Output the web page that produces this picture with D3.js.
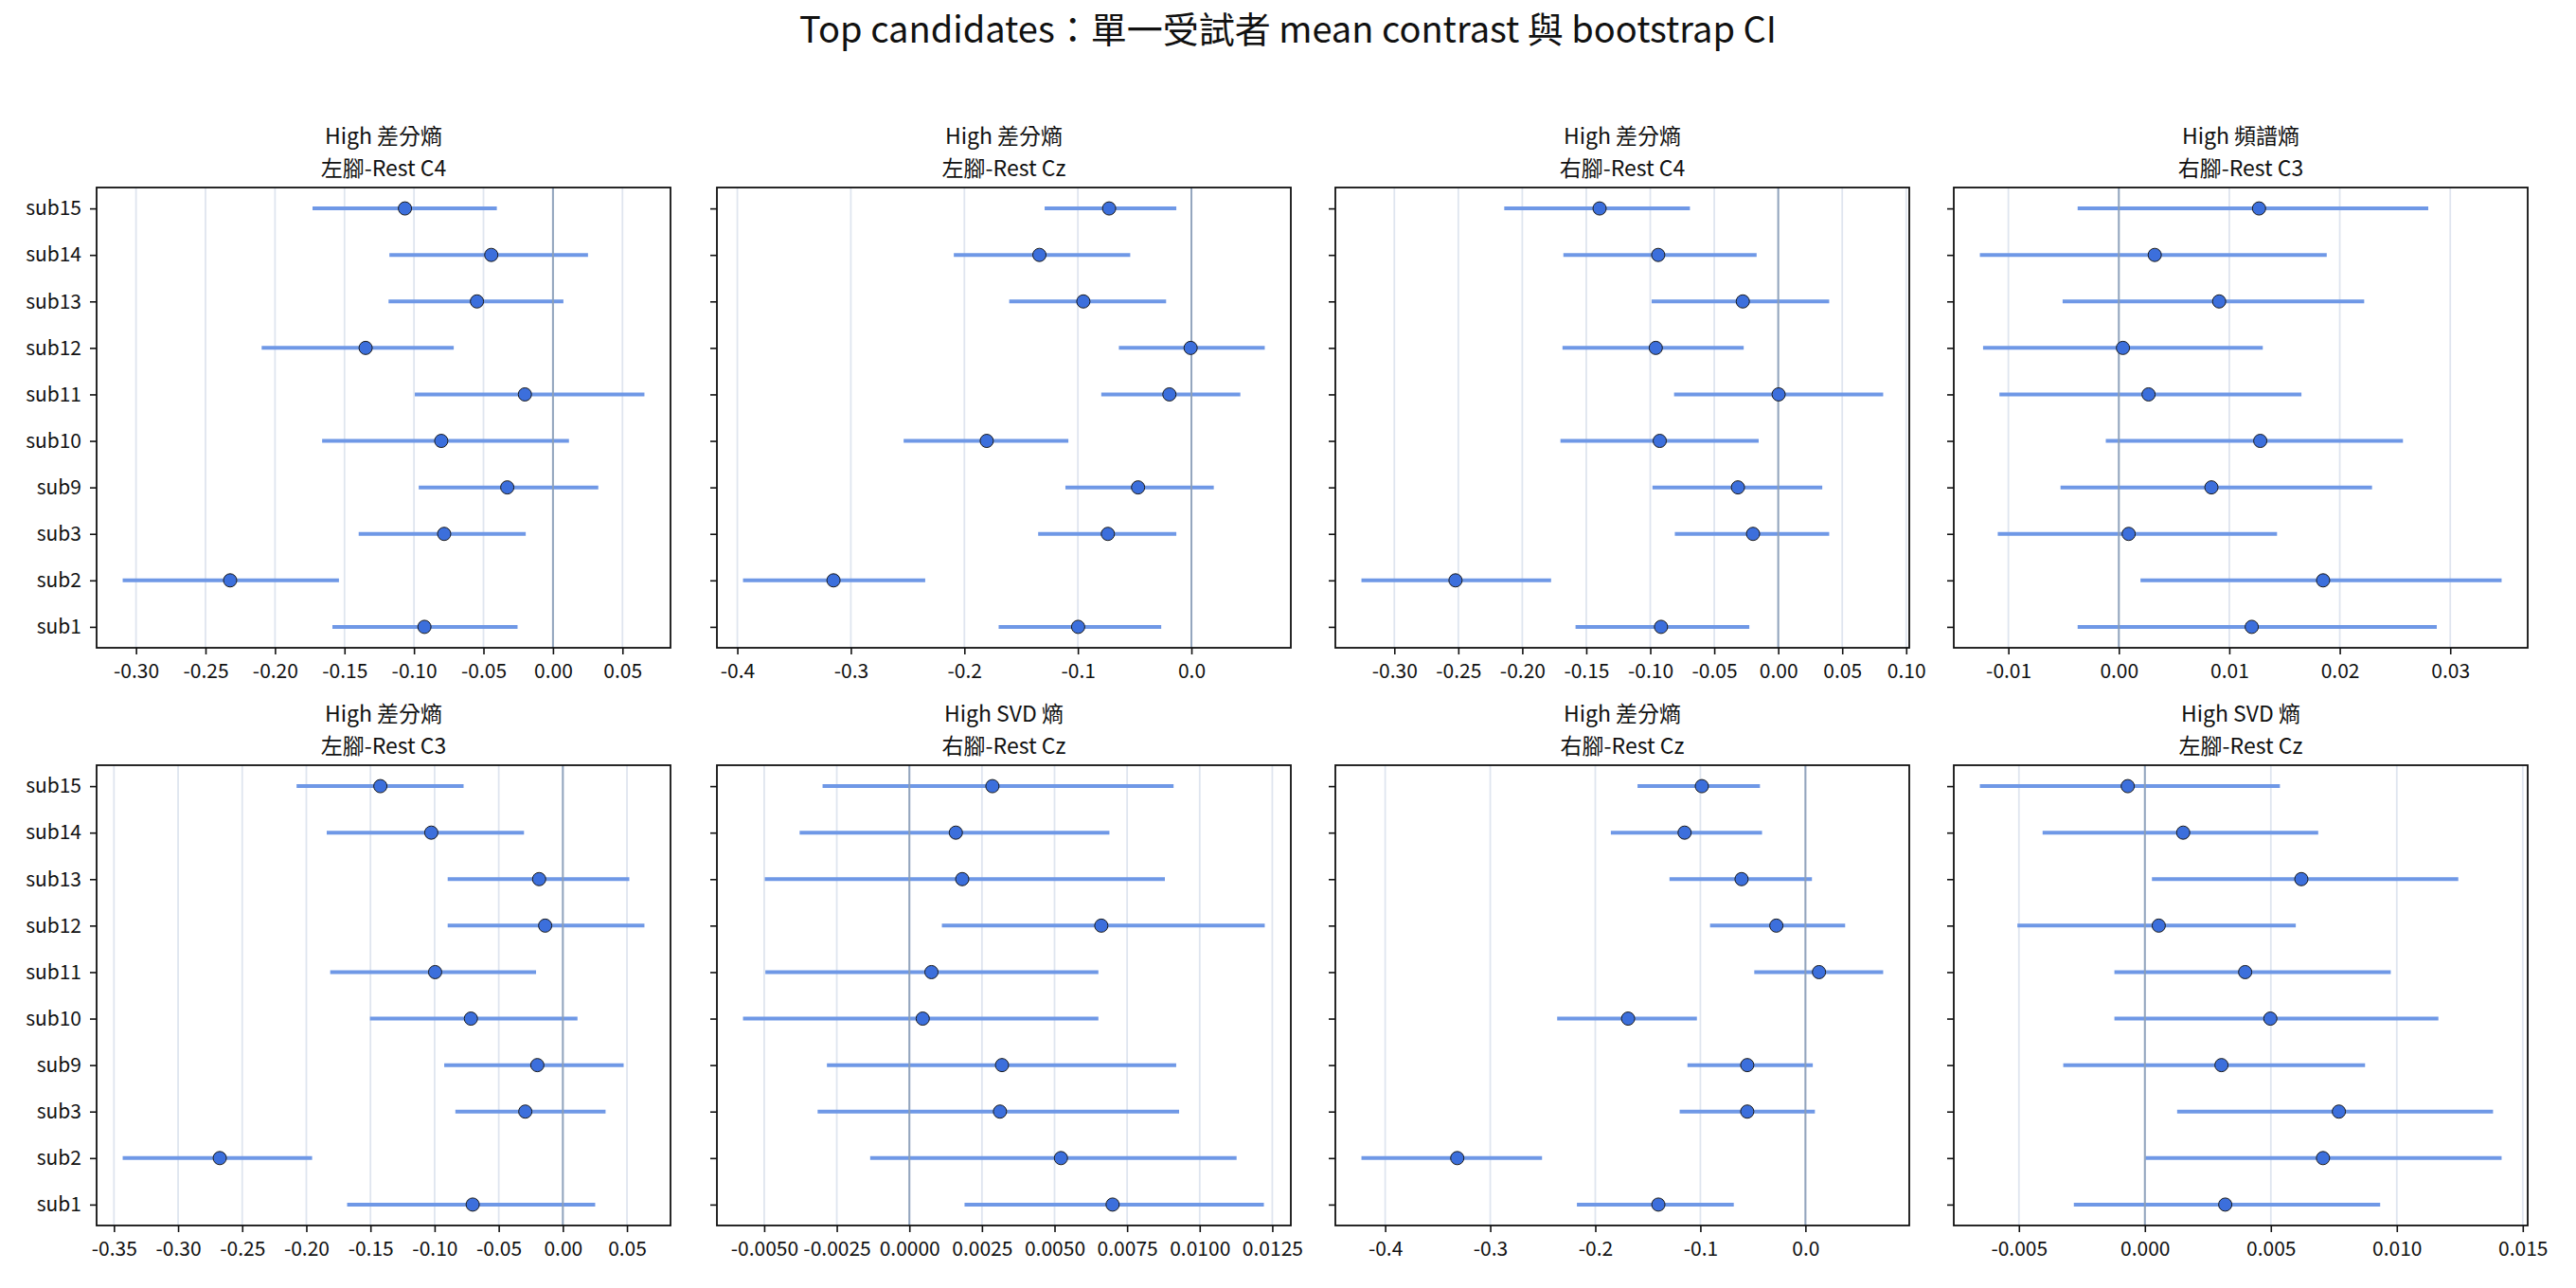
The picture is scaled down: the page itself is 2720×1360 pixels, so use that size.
<!DOCTYPE html>
<html>
<head>
<meta charset="utf-8">
<script src="https://cdn.jsdelivr.net/npm/d3@7"></script>
<style>
    body { margin: 0; background: #fff; }
    text { font-family: "Noto Sans CJK TC", "Noto Sans", sans-serif; fill: #111; }
</style>
</head>
<body>
<svg id="chart" width="2720" height="1360"></svg>
<script>
// 受試者（由下往上）
const subjects = ['sub1', 'sub2', 'sub3', 'sub9', 'sub10', 'sub11', 'sub12', 'sub13', 'sub14', 'sub15'];

const suptitle = 'Top candidates：單一受試者 mean contrast 與 bootstrap CI';
const metricNames = ['High 差分熵', 'High 差分熵', 'High 差分熵', 'High 頻譜熵',
    'High 差分熵', 'High SVD 熵', 'High 差分熵', 'High SVD 熵'];
const contrastNames = ['左腳-Rest C4', '左腳-Rest Cz', '右腳-Rest C4', '右腳-Rest C3',
    '左腳-Rest C3', '右腳-Rest Cz', '右腳-Rest Cz', '左腳-Rest Cz'];

// mean contrast，每列一個 panel，順序同 subjects
const means = [
    [-0.0925, -0.2323, -0.0783, -0.0329, -0.0804, -0.0202, -0.1348, -0.0547, -0.0444, -0.1065],
    [-0.0998, -0.3153, -0.0736, -0.0470, -0.1803, -0.0194, -0.0007, -0.0952, -0.1339, -0.0725],
    [-0.0916, -0.2522, -0.0197, -0.0315, -0.0926, 0.0003, -0.0957, -0.0277, -0.0938, -0.1396],
    [0.01203, 0.01849, 0.00089, 0.00838, 0.01280, 0.00269, 0.00037, 0.00908, 0.00325, 0.01269],
    [-0.0703, -0.2675, -0.0293, -0.0199, -0.0717, -0.0996, -0.0138, -0.0185, -0.1026, -0.1423],
    [0.00700, 0.00522, 0.00312, 0.00319, 0.00046, 0.00076, 0.00661, 0.00182, 0.00160, 0.00286],
    [-0.1400, -0.3314, -0.0554, -0.0554, -0.1688, 0.0129, -0.0277, -0.0608, -0.1150, -0.0986],
    [0.00319, 0.00707, 0.00770, 0.00304, 0.00498, 0.00398, 0.00055, 0.00621, 0.00152, -0.00068]
];
// bootstrap CI 下界
const ciLow = [
    [-0.1587, -0.3096, -0.1398, -0.0966, -0.1661, -0.0994, -0.2096, -0.1183, -0.1177, -0.1730],
    [-0.1698, -0.3950, -0.1350, -0.1110, -0.2535, -0.0794, -0.0639, -0.1605, -0.2093, -0.1293],
    [-0.1584, -0.3257, -0.0808, -0.0983, -0.1702, -0.0814, -0.1686, -0.0989, -0.1679, -0.2141],
    [-0.00373, 0.00196, -0.01096, -0.00528, -0.00118, -0.01081, -0.01229, -0.00509, -0.01258, -0.00373],
    [-0.1682, -0.3432, -0.0838, -0.0925, -0.1504, -0.1814, -0.0898, -0.0898, -0.1841, -0.2076],
    [0.00190, -0.00135, -0.00316, -0.00284, -0.00573, -0.00496, 0.00112, -0.00498, -0.00378, -0.00299],
    [-0.2175, -0.4226, -0.1197, -0.1123, -0.2363, -0.0487, -0.0908, -0.1294, -0.1852, -0.1598],
    [-0.00282, 0.00002, 0.00128, -0.00324, -0.00121, -0.00121, -0.00506, 0.00028, -0.00406, -0.00655]
];
// bootstrap CI 上界
const ciHigh = [
    [-0.0255, -0.1540, -0.0196, 0.0326, 0.0115, 0.0658, -0.0714, 0.0075, 0.0252, -0.0404],
    [-0.0266, -0.2345, -0.0133, 0.0197, -0.1084, 0.0431, 0.0646, -0.0223, -0.0539, -0.0133],
    [-0.0226, -0.1775, 0.0398, 0.0344, -0.0153, 0.0820, -0.0270, 0.0398, -0.0169, -0.0690],
    [0.02878, 0.03465, 0.01432, 0.02292, 0.02572, 0.01653, 0.01303, 0.02221, 0.01882, 0.02801],
    [0.0252, -0.1955, 0.0333, 0.0474, 0.0114, -0.0209, 0.0636, 0.0518, -0.0303, -0.0774],
    [0.01221, 0.01127, 0.00929, 0.00919, 0.00651, 0.00651, 0.01224, 0.00880, 0.00689, 0.00910],
    [-0.0682, -0.2507, 0.0090, 0.0070, -0.1033, 0.0740, 0.0378, 0.0062, -0.0413, -0.0433],
    [0.00934, 0.01416, 0.01382, 0.00874, 0.01165, 0.00976, 0.00599, 0.01244, 0.00688, 0.00536]
];
// x 軸刻度間距
const tickSteps = [0.05, 0.1, 0.05, 0.01, 0.05, 0.0025, 0.1, 0.005];

let svg = d3.select('#chart');
let colX = [102, 757, 1410, 2063];
let rowY = [198, 808];
let pw = 606, ph = 486;

let locale = d3.formatLocale({decimal: '.', thousands: ',', grouping: [3], currency: ['', ''], minus: '-'});

//總標題
svg.append('text')
    .attr('x', 1360)
    .attr('y', 45)
    .attr('text-anchor', 'middle')
    .style('font-size', '38px')
    .text(suptitle);

for (let i = 0; i < means.length; i++) {
    let tx = colX[i % 4];
    let ty = rowY[Math.floor(i / 4)];
    let g = svg.append('g').attr('transform', 'translate(' + tx + ',' + ty + ')');

    //資料範圍加 5% 邊界（同 matplotlib 預設）
    let lo = Math.min(d3.min(ciLow[i]), 0);
    let hi = Math.max(d3.max(ciHigh[i]), 0);
    let pad = (hi - lo) * 0.05;
    let xScale = d3.scaleLinear()
        .domain([lo - pad, hi + pad])
        .range([0, pw]);
    let yScale = d3.scalePoint()
        .domain(subjects)
        .range([ph, 0])
        .padding(0.45);

    let step = tickSteps[i];
    let dom = xScale.domain();
    let ticks = d3.range(Math.ceil(dom[0] / step - 1e-6), Math.floor(dom[1] / step + 1e-6) + 1)
        .map(function (k) {
            return +(k * step).toFixed(6)
        });
    let dec = String(step).split('.')[1].length;
    let fmt = locale.format('.' + dec + 'f');

    //格線
    g.selectAll('line.grid')
        .data(ticks)
        .enter()
        .append('line')
        .attr('class', 'grid')
        .attr('x1', function (d) { return xScale(d) })
        .attr('x2', function (d) { return xScale(d) })
        .attr('y1', 0)
        .attr('y2', ph)
        .attr('stroke', '#dfe5ef')
        .attr('stroke-width', 1.8);

    let rows = subjects.map(function (s, j) {
        return {sub: s, mean: means[i][j], lo: ciLow[i][j], hi: ciHigh[i][j]}
    });

    // CI 線段
    g.selectAll('line.ci')
        .data(rows)
        .enter()
        .append('line')
        .attr('class', 'ci')
        .attr('x1', function (d) { return xScale(d.lo) })
        .attr('x2', function (d) { return xScale(d.hi) })
        .attr('y1', function (d) { return yScale(d.sub) })
        .attr('y2', function (d) { return yScale(d.sub) })
        .attr('stroke', '#6f98e6')
        .attr('stroke-width', 4);

    //零線
    g.append('line')
        .attr('x1', xScale(0))
        .attr('x2', xScale(0))
        .attr('y1', 0)
        .attr('y2', ph)
        .attr('stroke', '#8b9fb9')
        .attr('stroke-width', 2)
        .attr('opacity', 0.9);

    //平均值圓點
    g.selectAll('circle')
        .data(rows)
        .enter()
        .append('circle')
        .attr('cx', function (d) { return xScale(d.mean) })
        .attr('cy', function (d) { return yScale(d.sub) })
        .attr('r', 7)
        .attr('fill', '#3c6fdc')
        .attr('stroke', '#1a1a1a')
        .attr('stroke-width', 1);

    //座標軸
    let gx = g.append('g')
        .attr('transform', 'translate(0,' + ph + ')')
        .call(d3.axisBottom(xScale).tickValues(ticks).tickFormat(fmt).tickSize(7).tickPadding(10).tickSizeOuter(0));
    let yAxis = d3.axisLeft(yScale).tickSize(7).tickPadding(9);
    if (i % 4 !== 0) {
        yAxis.tickFormat('');
    }
    let gy = g.append('g').call(yAxis);
    [gx, gy].forEach(function (a) {
        a.select('.domain').remove();
        a.style('color', '#111');
        a.selectAll('line').attr('stroke-width', 1.6);
        a.selectAll('text').style('font-size', '21px');
    });

    //外框
    g.append('rect')
        .attr('width', pw)
        .attr('height', ph)
        .attr('fill', 'none')
        .attr('stroke', '#111')
        .attr('stroke-width', 1.8);

    //子標題（兩行）
    g.append('text')
        .attr('x', pw / 2)
        .attr('y', -46)
        .attr('text-anchor', 'middle')
        .style('font-size', '23px')
        .text(metricNames[i]);
    g.append('text')
        .attr('x', pw / 2)
        .attr('y', -12)
        .attr('text-anchor', 'middle')
        .style('font-size', '23px')
        .text(contrastNames[i]);
}
</script>
</body>
</html>
